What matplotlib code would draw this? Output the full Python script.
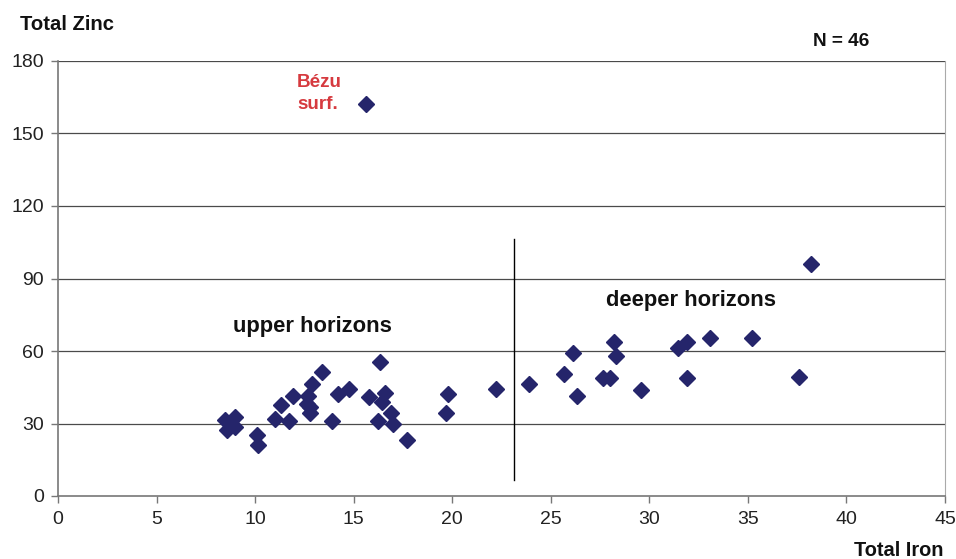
import matplotlib
matplotlib.use("Agg")
import matplotlib.pyplot as plt

plt.rcParams['font.family'] = ['Liberation Sans', 'DejaVu Sans']

# Data
total_iron = [8.47, 8.98, 8.56, 8.98, 10.08, 10.16, 11.01, 11.30, 11.72, 11.91,
              12.70, 12.62, 12.79, 12.79, 12.87, 13.41, 13.89, 14.20, 14.78, 15.80,
              16.34, 16.59, 16.42, 16.25, 16.88, 16.98, 17.69, 19.80, 19.69, 15.61,
              22.22,
              23.91, 25.69, 26.11, 26.31, 27.67, 28.00, 28.21, 28.31, 29.56, 31.47,
              31.90, 31.90, 33.08, 35.19, 37.61, 38.20]
total_zinc = [31.4, 32.6, 27.3, 28.4, 25.2, 21.1, 31.7, 37.6, 31.2, 41.4,
              41.4, 37.9, 36.9, 34.2, 46.3, 51.2, 31.2, 42.3, 44.4, 41.1,
              55.3, 42.5, 39.0, 31.0, 34.2, 29.7, 23.2, 42.1, 34.2, 162.0,
              44.3,
              46.2, 50.3, 59.0, 41.4, 48.9, 48.9, 63.6, 58.0, 43.9, 61.4,
              63.6, 48.7, 65.2, 65.2, 49.4, 96.0]

x_ticks = [0, 5, 10, 15, 20, 25, 30, 35, 40, 45]
y_ticks = [0, 30, 60, 90, 120, 150, 180]
divider_x = 23.12
divider_y = (6.5, 106.5)

fig = plt.figure(figsize=(9.56, 5.59), dpi=100)
ax = fig.add_axes([58/956, 1-496/559, 887/956, 435/559])

ax.set_xlim(0, 45)
ax.set_ylim(0, 180)
ax.set_xticks(x_ticks)
ax.set_yticks(y_ticks)
ax.tick_params(axis='both', labelsize=14, length=5, width=1, color='#777777',
               labelcolor='#222222', direction='out')
ax.tick_params(axis='x', pad=6)
ax.tick_params(axis='y', pad=5)

for y in y_ticks[1:]:
    ax.axhline(y, color='#4a4a4a', lw=0.9, zorder=1)

ax.spines['top'].set_visible(False)
ax.spines['right'].set_color('#aaaaaa')
ax.spines['left'].set_color('#777777')
ax.spines['bottom'].set_color('#777777')
ax.spines['left'].set_linewidth(1.2)
ax.spines['bottom'].set_linewidth(1.2)

ax.plot(total_iron, total_zinc, linestyle='none', marker='D', markersize=8,
        color='#25256b', zorder=3)

ax.plot([divider_x, divider_x], list(divider_y), color='black', lw=1.0, zorder=2)

ax.text(12.13, 166.5, 'Bézu\nsurf.', color='#d63a3f', fontsize=13.6, fontweight='bold',
        ha='left', va='center', linespacing=1.4)
ax.text(8.88, 70.3, 'upper horizons', fontsize=15.8, fontweight='bold', ha='left',
        va='center', color='#111111')
ax.text(27.8, 81.1, 'deeper horizons', fontsize=15.8, fontweight='bold', ha='left',
        va='center', color='#111111')

fig.text(20/956, 1-24/559, 'Total Zinc', fontsize=14.6, fontweight='bold',
         ha='left', va='center', color='#111111')
fig.text(841/956, 1-42/559, 'N = 46', fontsize=13.7, fontweight='bold',
         ha='center', va='center', color='#111111')
fig.text(943/956, 1-550/559, 'Total Iron', fontsize=14.4, fontweight='bold',
         ha='right', va='center', color='#111111')

fig.savefig('out.png', dpi=100)
